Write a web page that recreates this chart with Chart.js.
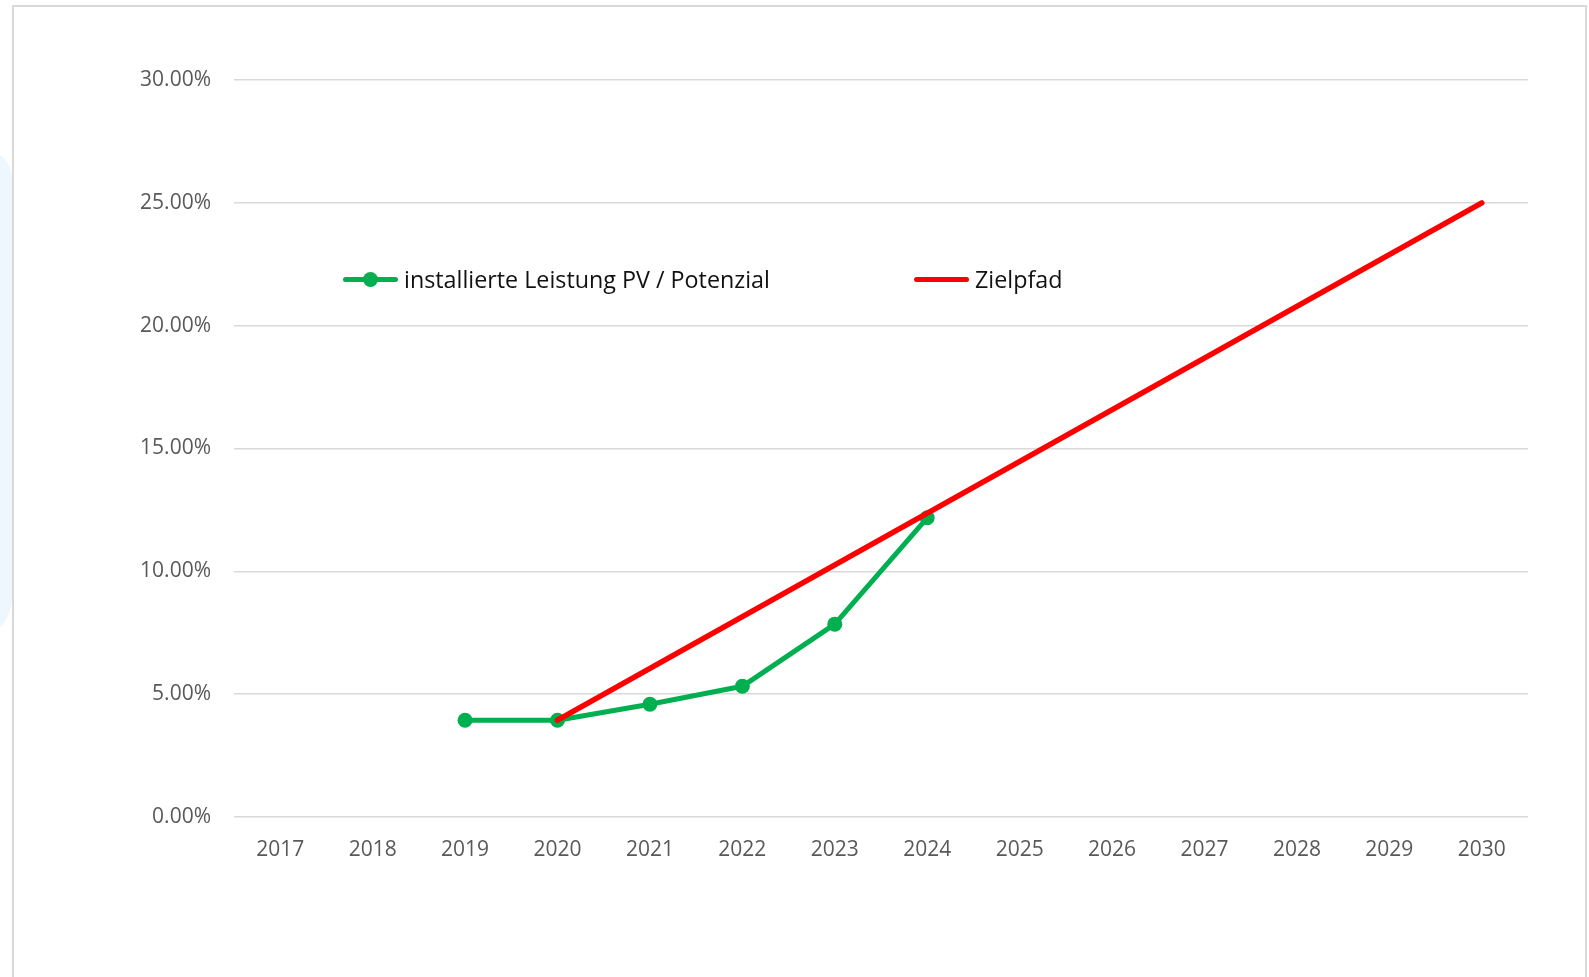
<!DOCTYPE html>
<html>
<head>
<meta charset="utf-8">
<script src="https://cdn.jsdelivr.net/npm/chart.js@4.4.1/dist/chart.umd.min.js"></script>
<style>
    html, body { margin: 0; padding: 0; background: #ffffff; }
    body { width: 1589px; height: 977px; position: relative; overflow: hidden; font-family: 'Open Sans', sans-serif; }
    .side-glow { position: absolute; left: -30px; top: 150px; width: 42px; height: 490px; background: #eef7fd; border-radius: 0 40px 60px 0; }
    .frame { position: absolute; left: 12px; top: 5px; width: 1571px; height: 990px; border: 2px solid #d9d9d9; background: #fff; }
    #wrap { position: absolute; left: 0; top: 0; width: 1589px; height: 977px; }
    .legend { position: absolute; top: 262px; left: 0; height: 34px; }
    .legend-item { position: absolute; top: 0; height: 34px; display: flex; align-items: center; font-size: 23.3px; color: #111; white-space: nowrap; }
    .legend-line { position: relative; width: 55px; height: 5px; border-radius: 3px; margin-right: 6px; }
    .legend-dot { position: absolute; left: 20px; top: -5px; width: 15px; height: 15px; border-radius: 50%; }
</style>
</head>
<body>
<div class="side-glow"></div>
<div class="frame"></div>
<div id="wrap"><canvas id="pvChart"></canvas></div>
<div class="legend" id="legend"></div>
<script>
// Data
const years = ['2017', '2018', '2019', '2020', '2021', '2022', '2023', '2024', '2025', '2026', '2027', '2028', '2029', '2030'];
const installiert = [null, null, 3.94, 3.94, 4.59, 5.32, 7.85, 12.18, null, null, null, null, null, null];
const zielpfad = [null, null, null, 3.94, null, null, null, null, null, null, null, null, null, 25.0];
const yTicks = [0, 5, 10, 15, 20, 25, 30];

const seriesLabels = ['installierte Leistung PV / Potenzial', 'Zielpfad'];
const seriesColors = ['#00B050', '#FF0000'];

document.addEventListener('DOMContentLoaded', function () {
    Chart.defaults.font.family = "'Open Sans', sans-serif";
    Chart.defaults.color = '#595959';

    const ctx = document.getElementById('pvChart').getContext('2d');

    new Chart(ctx, {
        type: 'line',
        data: {
            labels: years,
            datasets: [
                {
                    label: seriesLabels[0],
                    data: installiert,
                    borderColor: seriesColors[0],
                    backgroundColor: seriesColors[0],
                    borderWidth: 5,
                    pointRadius: 7.5,
                    pointBorderWidth: 0,
                    pointBackgroundColor: seriesColors[0],
                    borderCapStyle: 'round',
                    borderJoinStyle: 'round',
                    tension: 0,
                    spanGaps: false,
                    order: 2
                },
                {
                    label: seriesLabels[1],
                    data: zielpfad,
                    borderColor: seriesColors[1],
                    backgroundColor: seriesColors[1],
                    borderWidth: 5.5,
                    pointRadius: 0,
                    borderCapStyle: 'round',
                    tension: 0,
                    spanGaps: true,
                    order: 1
                }
            ]
        },
        options: {
            responsive: true,
            maintainAspectRatio: false,
            animation: false,
            layout: { padding: { left: 20, right: 61, top: 80, bottom: 100 } },
            plugins: {
                legend: { display: false },
                tooltip: { enabled: false }
            },
            scales: {
                x: {
                    offset: true,
                    grid: { display: false },
                    border: { display: false },
                    ticks: { padding: 12, font: { size: 21 }, color: '#595959', maxRotation: 0 },
                    afterFit: (scale) => { scale.height = 60; }
                },
                y: {
                    min: 0,
                    max: 30,
                    afterBuildTicks: (scale) => { scale.ticks = yTicks.map(v => ({ value: v })); },
                    grid: { color: '#d9d9d9', lineWidth: 1.6, drawTicks: false },
                    border: { display: false },
                    ticks: {
                        padding: 23,
                        font: { size: 21 },
                        color: '#595959',
                        callback: (v) => v.toFixed(2) + '%'
                    },
                    afterFit: (scale) => { scale.width = 214; }
                }
            }
        }
    });

    // Legend in the plot, like the original
    const legendPos = [343, 914];
    const legend = document.getElementById('legend');
    legend.innerHTML = seriesLabels.map((name, i) => `
        <div class="legend-item" style="left: ${legendPos[i]}px;">
            <div class="legend-line" style="background: ${seriesColors[i]};">
                ${i === 0 ? `<div class="legend-dot" style="background: ${seriesColors[i]};"></div>` : ''}
            </div>
            <span>${name}</span>
        </div>
    `).join('');
});
</script>
</body>
</html>
